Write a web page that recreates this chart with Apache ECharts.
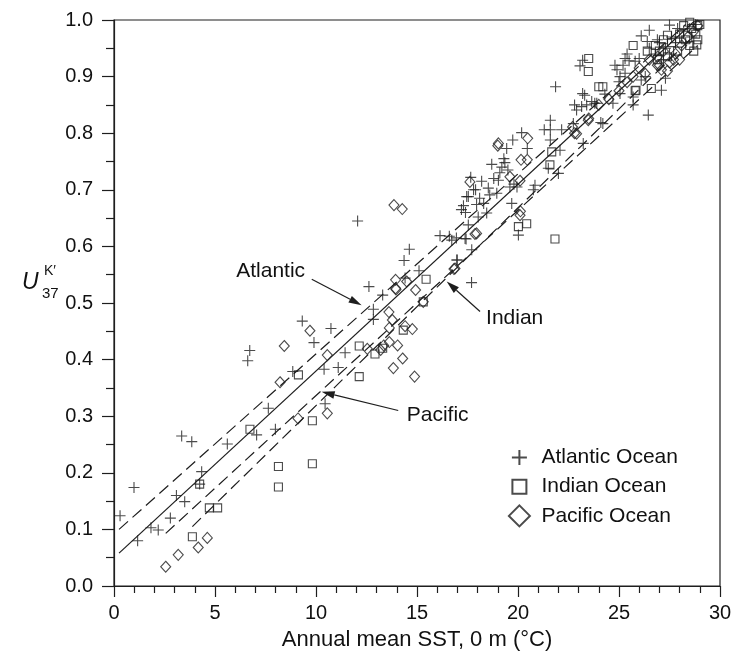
<!DOCTYPE html>
<html><head><meta charset="utf-8">
<script src="https://cdn.jsdelivr.net/npm/echarts@6/dist/echarts.min.js"></script>
<style>html,body{margin:0;padding:0;background:#fff}#c{width:733px;height:655px}</style>
</head><body><div id="c"></div>
<script>
// ---- data (annual mean SST °C, U37K') ----
const atlantic = [
 [0.30,0.124],[0.99,0.174],[1.17,0.080],[1.83,0.103],[2.19,0.099],[2.79,0.120],[3.09,0.160],[3.50,0.149],
 [3.35,0.265],[3.85,0.255],[4.34,0.202],[4.24,0.180],[5.61,0.251],[7.06,0.267],[6.62,0.398],[6.72,0.416],
 [7.64,0.314],[7.99,0.277],[8.85,0.379],[9.32,0.468],[9.90,0.430],[10.45,0.322],[10.74,0.455],[10.40,0.383],
 [11.10,0.386],[11.44,0.412],[12.84,0.471],[12.84,0.489],[12.62,0.529],[13.30,0.514],[12.06,0.645],[14.62,0.595],
 [14.36,0.575],[15.10,0.557],[14.41,0.544],[16.14,0.619],[16.72,0.611],[17.43,0.613],[16.99,0.576],[17.71,0.594],
 [17.70,0.536],[17.54,0.688],
 [17.2,0.665],[17.3,0.672],[17.4,0.660],[17.95,0.674],[18.3,0.676],[18.45,0.659],[18.03,0.652],[17.54,0.638],
 [16.6,0.618],[16.95,0.615],[17.38,0.614],[17.66,0.722],[17.46,0.688],[18.53,0.703],[18.6,0.691],[18.95,0.694],
 [19.03,0.717],[19.2,0.740],[19.35,0.748],[19.5,0.735],[19.3,0.755],[19.44,0.773],[19.74,0.788],[20.18,0.801],
 [20.46,0.773],[19.69,0.676],[19.8,0.710],[19.95,0.705],[20.84,0.708],[20.76,0.700],[20.02,0.620],[16.97,0.576],
 [17.9,0.700],[18.2,0.715],[18.8,0.720],[19.1,0.730],[18.7,0.745],[19.6,0.705],[18.1,0.685],[17.8,0.700],
 [21.86,0.882],[21.6,0.823],[21.3,0.806],[21.6,0.806],[22.16,0.806],[21.6,0.788],[22.08,0.770],[22.0,0.729],
 [21.5,0.738],[23.23,0.782],[22.74,0.817],[22.8,0.850],[23.15,0.847],[23.3,0.867],[23.4,0.850],[23.8,0.853],
 [23.07,0.919],[23.2,0.929],[24.3,0.869],[24.1,0.819],[22.9,0.841],[23.65,0.856],[23.2,0.870],[24.2,0.817],[23.9,0.853],
 [24.8,0.920],[25.3,0.932],[25.5,0.928],[25.8,0.927],[24.9,0.912],[25.05,0.900],[25.3,0.906],[24.7,0.853],
 [25.0,0.891],[25.05,0.870],[25.7,0.850],[25.7,0.864],[26.45,0.832],[27.1,0.876],[27.3,0.897],[26.1,0.894],
 [26.3,0.900],[26.1,0.972],[26.5,0.982],[27.5,0.991],[26.4,0.962],[26.0,0.932],[26.5,0.950],[26.8,0.940],
 [27.0,0.960],[27.3,0.950],[27.6,0.970],[27.8,0.960],[28.0,0.970],[28.2,0.980],[28.5,0.985],[27.2,0.930],
 [27.5,0.940],[28.3,0.960],[28.6,0.970],[27.9,0.985],[28.8,0.992],[26.9,0.965],[25.2,0.920],[25.4,0.940]
];
const indian = [
 [4.24,0.180],[3.88,0.087],[4.72,0.138],[5.13,0.138],[6.73,0.277],[8.14,0.211],[8.14,0.175],[9.13,0.373],
 [9.82,0.292],[9.82,0.216],[12.14,0.424],[12.14,0.370],[12.92,0.410],[13.3,0.420],[14.32,0.452],[15.31,0.502],
 [15.45,0.542],[20.02,0.635],[20.43,0.640],[21.83,0.613],[21.67,0.767],[21.58,0.744],[24.0,0.882],[24.2,0.882],
 [23.5,0.932],[23.48,0.909],[25.8,0.875],[26.6,0.879],[25.84,0.876],[25.7,0.955],[27.4,0.973],[28.5,0.996],
 [29.0,0.992],[28.85,0.956],
 [26.8,0.955],[27.2,0.965],[27.6,0.960],[28.0,0.975],[28.3,0.965],[28.6,0.985],[28.8,0.975],[28.9,0.965],
 [28.9,0.990],[27.9,0.945],[27.4,0.935],[26.9,0.930],[28.5,0.955],[28.7,0.945],[27.0,0.945],[28.2,0.990],[26.4,0.945]
];
const pacific = [
 [2.56,0.034],[3.18,0.055],[4.17,0.068],[4.62,0.085],[8.22,0.360],[8.43,0.424],[9.11,0.296],[9.70,0.451],
 [10.56,0.305],[10.56,0.408],[12.54,0.419],[13.2,0.417],[13.35,0.425],[13.63,0.431],[14.04,0.425],[14.29,0.402],
 [13.83,0.385],[14.88,0.370],[13.61,0.484],[13.78,0.470],[13.63,0.456],[14.41,0.459],[14.77,0.454],[13.94,0.526],
 [14.93,0.523],[15.31,0.502],[13.86,0.673],[14.27,0.666],[13.94,0.541],[14.49,0.538],[13.96,0.524],[16.83,0.560],
 [17.95,0.623],[19.03,0.782],[19.0,0.778],[20.48,0.791],[20.15,0.753],[20.46,0.753],[17.62,0.714],[19.6,0.723],
 [20.1,0.716],[17.87,0.622],[20.1,0.655],[20.12,0.662],[16.88,0.561],[22.9,0.799],[23.48,0.823],[22.7,0.811],
 [22.8,0.800],[23.5,0.826],[26.9,0.920],[27.1,0.912],
 [26.5,0.930],[26.9,0.935],[27.2,0.945],[27.5,0.925],[27.8,0.940],[28.1,0.955],[28.4,0.970],[28.7,0.980],
 [28.9,0.990],[26.0,0.915],[26.3,0.905],[27.0,0.920],[27.4,0.910],[27.7,0.930],[28.0,0.930],[25.7,0.900],
 [25.4,0.890],[25.0,0.875],[24.5,0.860],[24.0,0.850]
];
// regression lines: end points [SST, U37K']
const fitAll      = [[0.25,0.058],[28.7,0.997]];
const fitAtlantic = [[0.25,0.100],[28.3,0.992]];
const fitIndian   = [[2.56,0.093],[28.9,0.955]];
const fitPacific  = [[3.88,0.105],[28.7,0.972]];
const seriesNames = ['Atlantic Ocean','Indian Ocean','Pacific Ocean'];
const xName = 'Annual mean SST, 0 m (°C)';
const notes = [
 {text:'Atlantic', at:[9.46,0.557], align:'right', from:[9.79,0.542], to:[12.26,0.496]},
 {text:'Indian',   at:[18.42,0.474], align:'left', from:[18.12,0.485], to:[16.47,0.538]},
 {text:'Pacific',  at:[14.49,0.302], align:'left', from:[14.07,0.310], to:[10.28,0.343]}
];

const INK = '#1e1e1e';
const FONT = '"Liberation Sans", Arial, Helvetica, sans-serif';
const plusPath = 'path://M0,5L10,5M5,0L5,10';
const markStyle = {color:'rgba(0,0,0,0)', borderColor:INK, borderWidth:1.1};

const chart = echarts.init(document.getElementById('c'), null, {renderer:'canvas'});
function fitSeries(d, dashed){
  return {type:'line', data:d, symbol:'none', silent:true, z:1,
    lineStyle:{color:INK, width:1.2, type: dashed ? [12,6] : 'solid'}};
}
chart.setOption({
  animation:false,
  backgroundColor:'#fff',
  textStyle:{fontFamily:FONT},
  grid:{left:114, right:13, top:20, bottom:69, containLabel:false, outerBoundsMode:'none',
    show:true, borderColor:INK, borderWidth:1.2, backgroundColor:'transparent'},
  xAxis:{type:'value', min:0, max:30, interval:5,
    name:xName, nameLocation:'middle', nameGap:43,
    nameTextStyle:{fontSize:22, color:'#111', fontFamily:FONT},
    axisLine:{lineStyle:{color:INK, width:1.2}},
    axisTick:{show:true, inside:false, length:11, lineStyle:{color:INK, width:1.2}},
    minorTick:{show:true, splitNumber:5, length:7, lineStyle:{color:INK, width:1.2}},
    splitLine:{show:false},
    axisLabel:{fontSize:20, color:'#111', margin:17, fontFamily:FONT}},
  yAxis:{type:'value', min:0, max:1, interval:0.1,
    axisLine:{lineStyle:{color:INK, width:1.2}},
    axisTick:{show:true, inside:false, length:12, lineStyle:{color:INK, width:1.2}},
    minorTick:{show:true, splitNumber:2, length:8, lineStyle:{color:INK, width:1.2}},
    splitLine:{show:false},
    axisLabel:{fontSize:20, color:'#111', margin:21, fontFamily:FONT, formatter:v=>v.toFixed(1)}},
  legend:{orient:'vertical', left:502.4, top:440.5, itemWidth:28, itemHeight:22, itemGap:5.2,
    textStyle:{fontSize:21, color:'#111', fontFamily:FONT, lineHeight:22},
    selectedMode:false,
    data:[
      {name:seriesNames[0], icon:'path://M0,0M28,22M3.5,11L18.5,11M11,3.5L11,18.5'},
      {name:seriesNames[1], icon:'path://M0,0M28,22M4,4L18,4L18,18L4,18Z'},
      {name:seriesNames[2], icon:'path://M0,0M28,22M11,0.5L21.5,11L11,21.5L0.5,11Z'}
    ]},
  series:[
    fitSeries(fitAll,false), fitSeries(fitAtlantic,true), fitSeries(fitIndian,true), fitSeries(fitPacific,true),
    {name:seriesNames[0], type:'scatter', data:atlantic, symbol:plusPath, symbolSize:11, itemStyle:markStyle, z:3},
    {name:seriesNames[1], type:'scatter', data:indian, symbol:'rect', symbolSize:8, itemStyle:markStyle, z:3},
    {name:seriesNames[2], type:'scatter', data:pacific, symbol:'diamond', symbolSize:[10,11], itemStyle:markStyle, z:3}
  ]
});

// annotations and y-axis title
const g = [];
notes.forEach(n=>{
  const p = chart.convertToPixel({gridIndex:0}, n.at);
  const a = chart.convertToPixel({gridIndex:0}, n.from);
  const b = chart.convertToPixel({gridIndex:0}, n.to);
  g.push({type:'text', x:p[0], y:p[1], style:{text:n.text, fontSize:21, fill:'#111', fontFamily:FONT, align:n.align, verticalAlign:'middle'}});
  const dx=b[0]-a[0], dy=b[1]-a[1], L=Math.hypot(dx,dy), ux=dx/L, uy=dy/L;
  const hl=13, hw=3.8;
  const bx=b[0]-ux*hl, by=b[1]-uy*hl;
  g.push({type:'line', shape:{x1:a[0], y1:a[1], x2:bx, y2:by}, style:{stroke:INK, lineWidth:1.2}});
  g.push({type:'polygon', shape:{points:[[b[0],b[1]],[bx-uy*hw,by+ux*hw],[bx+uy*hw,by-ux*hw]]}, style:{fill:INK}});
});
g.push({type:'text', x:22, y:283, style:{text:'U', fontSize:23, fontStyle:'italic', fill:'#111', fontFamily:FONT, verticalAlign:'middle'}});
g.push({type:'text', x:44, y:271, style:{text:'K\u2032', fontSize:14, fill:'#111', fontFamily:FONT, verticalAlign:'middle'}});
g.push({type:'text', x:42, y:294, style:{text:'37', fontSize:15, fill:'#111', fontFamily:FONT, verticalAlign:'middle'}});
chart.setOption({graphic:g});
</script></body></html>
